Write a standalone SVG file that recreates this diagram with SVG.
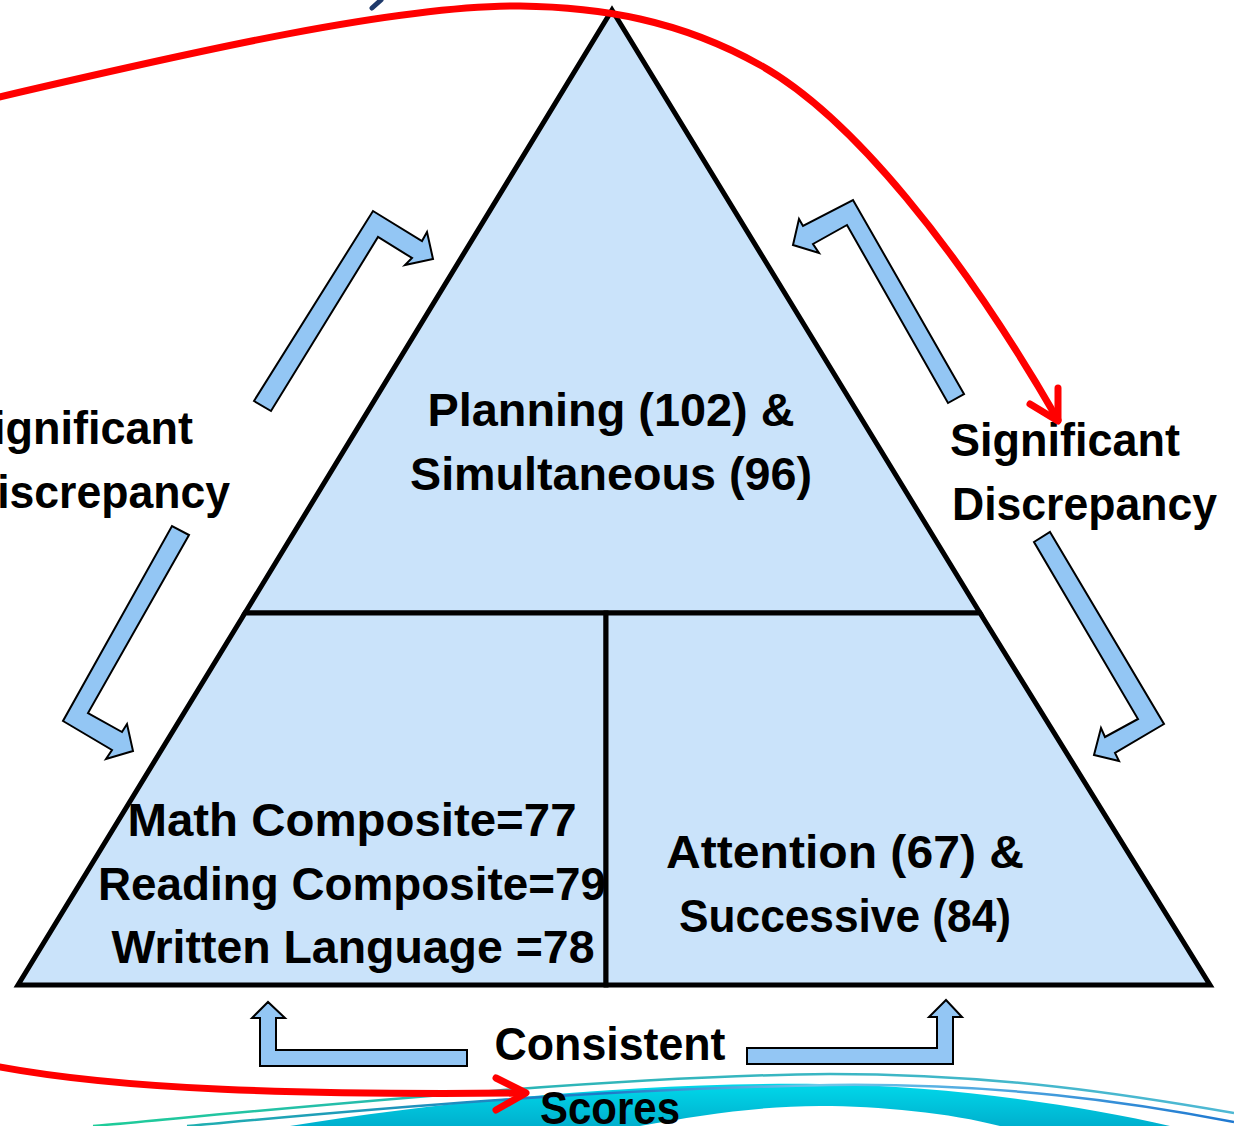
<svg xmlns="http://www.w3.org/2000/svg" width="1234" height="1126" viewBox="0 0 1234 1126">
<style>
.sec{fill:#CAE3FA;stroke:#000;stroke-width:5;stroke-linejoin:miter}
.ba{fill:#93C6F4;stroke:#000;stroke-width:2;stroke-linejoin:miter}
.t{font-family:"Liberation Sans",Arial,sans-serif;font-weight:bold;font-size:47px;fill:#000}
.red{fill:none;stroke:#FF0000;stroke-width:7;stroke-linecap:round;stroke-linejoin:round}
</style>
<defs>
<linearGradient id="band" x1="0" y1="0" x2="0" y2="1">
<stop offset="0" stop-color="#00D8EA"/>
<stop offset="1" stop-color="#00B0CE"/>
</linearGradient>
<linearGradient id="lineA" x1="0" y1="0" x2="1" y2="0">
<stop offset="0" stop-color="#1ECC98"/>
<stop offset="0.35" stop-color="#2AB5B5"/>
<stop offset="1" stop-color="#4EB8D4"/>
</linearGradient>
<linearGradient id="lineB" x1="0" y1="0" x2="1" y2="0">
<stop offset="0" stop-color="#20B0B0"/>
<stop offset="0.4" stop-color="#1E78C8"/>
<stop offset="0.6" stop-color="#70C8EA"/>
<stop offset="1" stop-color="#1E78D0"/>
</linearGradient>
</defs>

<g id="wave">
<path d="M 290 1126 C 450 1100 650 1082 820 1084 C 950 1086 1080 1105 1170 1126 L 1000 1126 C 950 1113 880 1106 820 1106 C 760 1106 700 1115 640 1126 Z" fill="url(#band)"/>
<path d="M 93 1126 C 250 1112 600 1076 830 1074 C 1000 1074 1130 1095 1234 1113" fill="none" stroke="url(#lineA)" stroke-width="2.5"/>
<path d="M 187 1126 C 320 1114 560 1090 830 1085 C 1000 1083 1130 1102 1234 1122" fill="none" stroke="url(#lineB)" stroke-width="2.5"/>
</g>

<line x1="381" y1="0" x2="372" y2="8" stroke="#1F3A6B" stroke-width="5" stroke-linecap="round"/>

<g id="node-top">
<polygon class="sec" points="612,10 980,613 245,613"/>
<text class="t" x="611" y="426" text-anchor="middle" textLength="367" lengthAdjust="spacingAndGlyphs">Planning (102) &amp;</text>
<text class="t" x="611" y="490" text-anchor="middle" textLength="402" lengthAdjust="spacingAndGlyphs">Simultaneous (96)</text>
</g>

<g id="node-achievement">
<polygon class="sec" points="245,613 606,613 606,985 18,985"/>
<text class="t" x="352" y="836" text-anchor="middle" textLength="449" lengthAdjust="spacingAndGlyphs">Math Composite=77</text>
<text class="t" x="352" y="900" text-anchor="middle" textLength="508" lengthAdjust="spacingAndGlyphs">Reading Composite=79</text>
<text class="t" x="353" y="963" text-anchor="middle" textLength="483" lengthAdjust="spacingAndGlyphs">Written Language =78</text>
</g>

<g id="node-attention">
<polygon class="sec" points="606,613 980,613 1210,985 606,985"/>
<text class="t" x="845" y="868" text-anchor="middle" textLength="358" lengthAdjust="spacingAndGlyphs">Attention (67) &amp;</text>
<text class="t" x="845" y="932" text-anchor="middle" textLength="332" lengthAdjust="spacingAndGlyphs">Successive (84)</text>
</g>

<g id="label-left">
<text class="t" x="-37" y="444" textLength="230" lengthAdjust="spacingAndGlyphs">Significant</text>
<text class="t" x="-35" y="508" textLength="265" lengthAdjust="spacingAndGlyphs">Discrepancy</text>
</g>

<g id="label-right">
<text class="t" x="950" y="456" textLength="230" lengthAdjust="spacingAndGlyphs">Significant</text>
<text class="t" x="952" y="520" textLength="265" lengthAdjust="spacingAndGlyphs">Discrepancy</text>
</g>

<g id="label-bottom">
<text class="t" x="610" y="1060" text-anchor="middle" textLength="231" lengthAdjust="spacingAndGlyphs">Consistent</text>
<text class="t" x="610" y="1124" text-anchor="middle" textLength="140" lengthAdjust="spacingAndGlyphs">Scores</text>
</g>

<g id="connectors">
<polygon class="ba" points="254,401 373,211 422,241 427,232 433,259 405,265 412,258 378,237 271,411"/>
<polygon class="ba" points="964,394 853,200 803,226 799,219 793,245 819,253 813,244 847,225 948,403"/>
<polygon class="ba" points="189,535 88,713 122,732 127,724 133,751 106,759 112,750 63,721 172,526"/>
<polygon class="ba" points="1050,532 1164,724 1115,753 1119,761 1094,755 1101,728 1105,737 1138,719 1034,542"/>
<polygon class="ba" points="467,1050 467,1066 260,1066 260,1018 252,1018 268,1002 285,1018 276,1018 276,1050"/>
<polygon class="ba" points="747,1048 937,1048 937,1017 929,1017 946,1000 962,1017 953,1017 953,1064 747,1064"/>
<path class="red" d="M -5 98 C 200 50 400 5 520 6 C 600 7 680 20 760 65 C 850 115 960 250 1058 420"/>
<polyline class="red" points="1030,404 1058,421 1058,388"/>
<path class="red" d="M -5 1066 C 120 1090 300 1095 525 1093"/>
<polyline class="red" points="496,1078 526,1093 496,1110"/>
</g>
</svg>
